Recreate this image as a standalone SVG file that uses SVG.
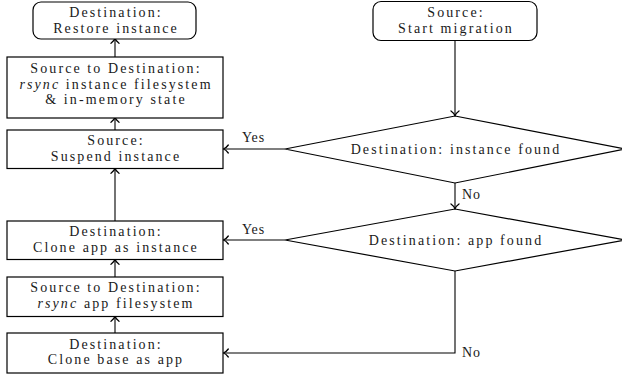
<svg xmlns="http://www.w3.org/2000/svg" width="622" height="377" viewBox="0 0 622 377">
<defs>
<style>
.box{fill:#fff;stroke:#000;stroke-width:1.2}
.t{font-family:"Liberation Serif","DejaVu Serif",serif;font-size:14px;letter-spacing:2.1px;fill:#1a1a1a;text-anchor:middle}
.l{font-family:"Liberation Serif","DejaVu Serif",serif;font-size:14px;letter-spacing:0.9px;fill:#1a1a1a}
.c{fill:none;stroke:#000;stroke-width:1.1}
.i{font-style:italic}
</style>
<marker id="ah" markerUnits="userSpaceOnUse" markerWidth="12" markerHeight="12" viewBox="-6 -6 12 12" refX="0" refY="0" orient="auto">
<path d="M-4.5,-4 C-2.8,-1.6 -0.8,-0.4 0.5,0 C-0.8,0.4 -2.8,1.6 -4.5,4" fill="none" stroke="#000" stroke-width="1.3" stroke-linecap="round"/>
</marker>
</defs>
<rect width="622" height="377" fill="#fff"/>
<g id="connectors">
<path class="c" d="M455,41 V115.5" marker-end="url(#ah)"/>
<path class="c" d="M455,183 V208.5" marker-end="url(#ah)"/>
<path class="c" d="M285,149 H223.8" marker-end="url(#ah)"/>
<path class="c" d="M285,240 H223.8" marker-end="url(#ah)"/>
<path class="c" d="M455,271 V353 H223.8" marker-end="url(#ah)"/>
<path class="c" d="M115,221 V168.8" marker-end="url(#ah)"/>
<path class="c" d="M115,130 V117.8" marker-end="url(#ah)"/>
<path class="c" d="M115,57 V38.8" marker-end="url(#ah)"/>
<path class="c" d="M115,277 V259.8" marker-end="url(#ah)"/>
<path class="c" d="M115,333 V316.8" marker-end="url(#ah)"/>
<text class="l" x="242" y="142">Yes</text>
<text class="l" x="242" y="234">Yes</text>
<text class="l" x="462" y="199">No</text>
<text class="l" x="462" y="357">No</text>
</g>
<g id="start">
<rect class="box" x="373" y="1.5" width="164" height="39" rx="8"/>
<text class="t" x="456" y="17">Source:</text>
<text class="t" x="456" y="32.5">Start migration</text>
</g>
<g id="instance-found">
<polygon class="box" points="455,116 625,149 455,183 285,149"/>
<text class="t" x="456" y="154">Destination: instance found</text>
</g>
<g id="app-found">
<polygon class="box" points="455,209 625,240 455,271 285,240"/>
<text class="t" x="456" y="245">Destination: app found</text>
</g>
<g id="restore">
<rect class="box" x="33" y="2" width="163" height="37" rx="8"/>
<text class="t" x="116" y="17">Destination:</text>
<text class="t" x="116" y="32.5">Restore instance</text>
</g>
<g id="rsync-instance">
<rect class="box" x="7" y="57" width="216" height="61"/>
<text class="t" x="116" y="73">Source to Destination:</text>
<text class="t" x="116" y="88.5"><tspan class="i">rsync</tspan> instance filesystem</text>
<text class="t" x="116" y="104">&amp; in-memory state</text>
</g>
<g id="suspend">
<rect class="box" x="7" y="130" width="216" height="38.5"/>
<text class="t" x="116" y="145">Source:</text>
<text class="t" x="116" y="160.5">Suspend instance</text>
</g>
<g id="clone-app">
<rect class="box" x="7" y="221" width="216" height="38.5"/>
<text class="t" x="116" y="236">Destination:</text>
<text class="t" x="116" y="251.5">Clone app as instance</text>
</g>
<g id="rsync-app">
<rect class="box" x="7" y="277" width="216" height="39.5"/>
<text class="t" x="116" y="292">Source to Destination:</text>
<text class="t" x="116" y="307.5"><tspan class="i">rsync</tspan> app filesystem</text>
</g>
<g id="clone-base">
<rect class="box" x="7" y="333" width="216" height="40"/>
<text class="t" x="116" y="348.5">Destination:</text>
<text class="t" x="116" y="364">Clone base as app</text>
</g>
</svg>
